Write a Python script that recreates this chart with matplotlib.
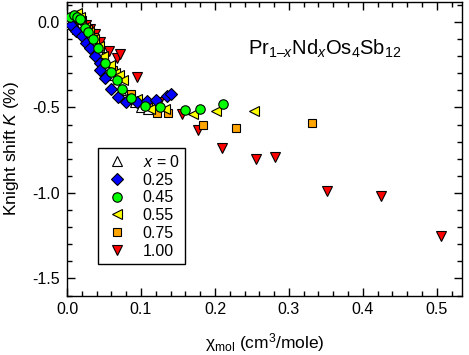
import matplotlib
matplotlib.use("Agg")
import matplotlib.pyplot as plt
from matplotlib.ticker import MultipleLocator

plt.rcParams['font.family'] = ['Liberation Sans', 'DejaVu Sans']
plt.rcParams['mathtext.fontset'] = 'custom'
plt.rcParams['mathtext.rm'] = 'Liberation Sans'
plt.rcParams['mathtext.it'] = 'Liberation Sans:italic'
plt.rcParams['axes.unicode_minus'] = False

labels = ['$x$ = 0', '0.25', '0.45', '0.55', '0.75', '1.00']

x0_x = [0.000, 0.004, 0.009, 0.014, 0.020, 0.025, 0.031, 0.036, 0.041, 0.045, 0.049, 0.055, 0.060, 0.066, 0.073, 0.083, 0.092, 0.100, 0.110]
x0_y = [0.00, -0.01, -0.02, -0.04, -0.06, -0.08, -0.11, -0.14, -0.16, -0.19, -0.22, -0.27, -0.31, -0.36, -0.40, -0.45, -0.47, -0.50, -0.51]

x25_x = [0.005, 0.012, 0.020, 0.026, 0.031, 0.038, 0.044, 0.045, 0.052, 0.060, 0.069, 0.080, 0.094, 0.108, 0.120, 0.135, 0.141]
x25_y = [-0.02, -0.05, -0.08, -0.12, -0.15, -0.20, -0.24, -0.28, -0.33, -0.39, -0.44, -0.47, -0.47, -0.465, -0.455, -0.435, -0.42]

x45_x = [0.004, 0.009, 0.014, 0.018, 0.024, 0.029, 0.035, 0.042, 0.051, 0.060, 0.067, 0.074, 0.087, 0.105, 0.126, 0.159, 0.180, 0.211]
x45_y = [0.03, 0.04, 0.03, 0.02, -0.035, -0.06, -0.10, -0.15, -0.24, -0.29, -0.34, -0.39, -0.445, -0.49, -0.50, -0.515, -0.51, -0.48]

x55_x = [0.013, 0.018, 0.024, 0.030, 0.037, 0.043, 0.049, 0.058, 0.065, 0.070, 0.076, 0.095, 0.112, 0.132, 0.171, 0.201, 0.253]
x55_y = [0.05, 0.03, -0.03, -0.06, -0.10, -0.14, -0.20, -0.25, -0.30, -0.31, -0.34, -0.45, -0.51, -0.51, -0.54, -0.52, -0.52]

x75_x = [0.015, 0.020, 0.028, 0.036, 0.049, 0.062, 0.087, 0.110, 0.122, 0.137, 0.184, 0.228, 0.331]
x75_y = [0.04, 0.01, -0.04, -0.09, -0.20, -0.28, -0.42, -0.50, -0.53, -0.53, -0.60, -0.62, -0.59]

x100_x = [0.012, 0.018, 0.025, 0.031, 0.038, 0.045, 0.057, 0.067, 0.072, 0.094, 0.125, 0.155, 0.177, 0.210, 0.256, 0.281, 0.352, 0.424, 0.505]
x100_y = [0.00, 0.01, -0.02, -0.04, -0.07, -0.115, -0.17, -0.21, -0.19, -0.32, -0.47, -0.54, -0.63, -0.74, -0.80, -0.79, -0.99, -1.02, -1.25]

fig = plt.figure(figsize=(4.69, 3.55), dpi=100)
ax = fig.add_axes([0.1429, 0.1676, 0.8421, 0.8268])

kw = dict(linestyle='none', markeredgecolor='black', markeredgewidth=0.8)
h100, = ax.plot(x100_x, x100_y, marker='v', markersize=7.5, markerfacecolor='#ff0000', zorder=3, **kw)
h75, = ax.plot(x75_x, x75_y, marker='s', markersize=6.2, markerfacecolor='#ffa500', zorder=4, **kw)
h0, = ax.plot(x0_x, x0_y, marker='^', markersize=7.5, markerfacecolor='white', zorder=5, **kw)
h55, = ax.plot(x55_x, x55_y, marker='<', markersize=7.5, markerfacecolor='#ffff00', zorder=6, **kw)
h25, = ax.plot(x25_x, x25_y, marker='D', markersize=5.8, markerfacecolor='#0000ff', zorder=7, **kw)
h45, = ax.plot(x45_x, x45_y, marker='o', markersize=6.8, markerfacecolor='#00ff00', zorder=8, **kw)

leg = ax.legend([h0, h25, h45, h55, h75, h100], labels, loc='lower left',
                bbox_to_anchor=(0.078, 0.107), borderaxespad=0, fontsize=11.5,
                labelspacing=0.17, handlelength=1.65, handletextpad=0.8, borderpad=0.35,
                frameon=True, fancybox=False, edgecolor='black', framealpha=1)
leg.get_frame().set_linewidth(1.0)

ax.set_xlim(0, 0.534)
ax.set_ylim(-1.6, 0.117)
ax.xaxis.set_major_locator(MultipleLocator(0.1))
ax.xaxis.set_minor_locator(MultipleLocator(0.02))
ax.yaxis.set_major_locator(MultipleLocator(0.5))
ax.yaxis.set_minor_locator(MultipleLocator(0.1))
ax.xaxis.set_major_formatter(matplotlib.ticker.FormatStrFormatter('%.1f'))
ax.yaxis.set_major_formatter(matplotlib.ticker.FormatStrFormatter('%.1f'))
ax.tick_params(which='both', direction='in', top=True, right=True, labelsize=11.5, width=1)
ax.tick_params(which='major', length=6, pad=5)
ax.tick_params(which='minor', length=3.5)
for s in ax.spines.values():
    s.set_linewidth(1.0)

ax.set_xlabel('χ$_\\mathrm{mol}$ (cm$^3$/mole)', fontsize=12.5, labelpad=10)
ax.set_ylabel('Knight shift $K$ (%)', fontsize=12.5, labelpad=8)

ax.text(0.458, 0.819, 'Pr$_{1\u2013x}$Nd$_x$Os$_4$Sb$_{12}$', transform=ax.transAxes,
        fontsize=14.5, va='baseline', ha='left')

fig.savefig('out.png', dpi=100)
